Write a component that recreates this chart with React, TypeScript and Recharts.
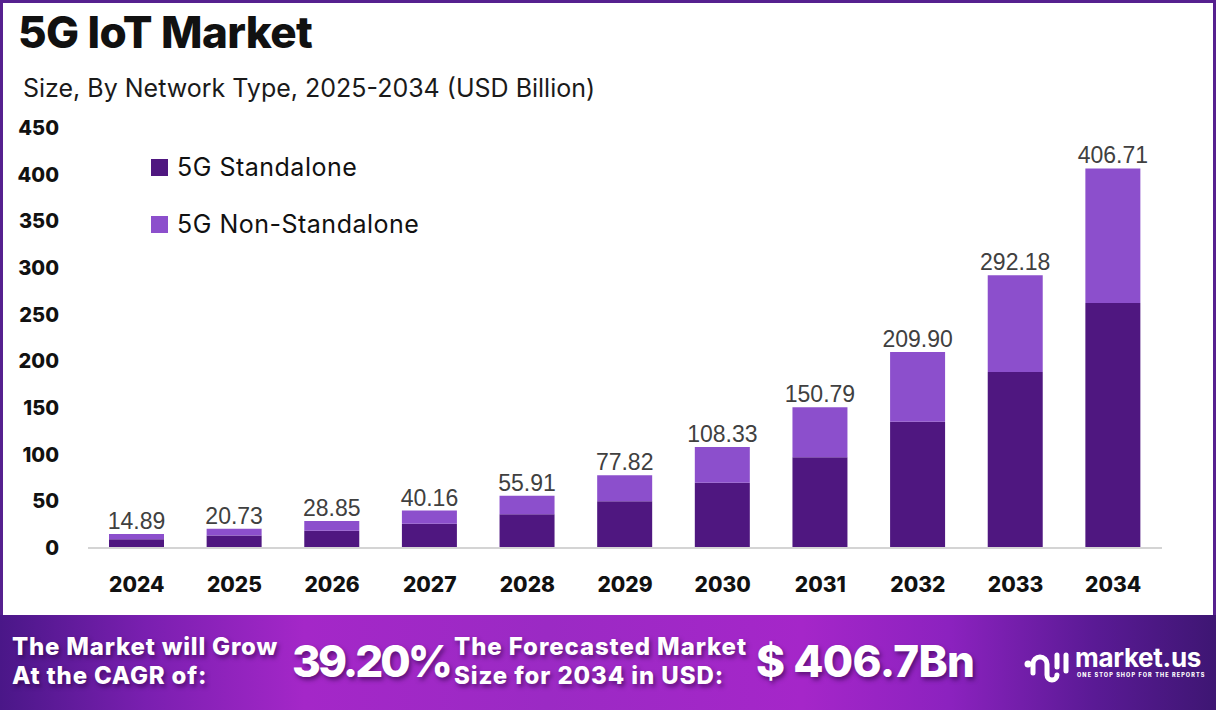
import React from "react";
import { BarChart, Bar, XAxis, YAxis, LabelList } from "recharts";

const years = ["2024", "2025", "2026", "2027", "2028", "2029", "2030", "2031", "2032", "2033", "2034"];
const standalone = [9.5, 13.4, 18.6, 25.9, 36.1, 50.2, 69.9, 97.3, 135.4, 188.5, 262.4];
const nonStandalone = [5.39, 7.33, 10.25, 14.26, 19.81, 27.62, 38.43, 53.49, 74.5, 103.68, 144.31];
const totals = ["14.89", "20.73", "28.85", "40.16", "55.91", "77.82", "108.33", "150.79", "209.90", "292.18", "406.71"];
const yTicks = [0, 50, 100, 150, 200, 250, 300, 350, 400, 450];
const seriesNames = ["5G Standalone", "5G Non-Standalone"];

const DARK = "#4f1780";
const LIGHT = "#8c4fcc";
const seriesColors = [DARK, LIGHT];
const FONT = "Inter, 'Noto Sans', sans-serif";

const data = years.map((y, i) => ({
  year: y,
  sa: standalone[i],
  nsa: nonStandalone[i],
  total: totals[i],
}));

const YTick = (props: any) => {
  const { y, payload } = props;
  return (
    <text x={59} y={y} dy={7} textAnchor="end" fontFamily={FONT} fontWeight={800} fontSize={20} fill="#111">
      {payload.value}
    </text>
  );
};

const XTick = (props: any) => {
  const { x, y, payload } = props;
  return (
    <text x={x} y={y} dy={36} textAnchor="middle" fontFamily={FONT} fontWeight={800} fontSize={21} fill="#111">
      {payload.value}
    </text>
  );
};

const shadowText = "2px 3px 4px rgba(40,0,60,0.55)";

const bannerSmall: React.CSSProperties = {
  position: "absolute",
  top: 17,
  fontSize: 24,
  fontWeight: 800,
  lineHeight: "29px",
  letterSpacing: 0.8,
  textShadow: shadowText,
  whiteSpace: "nowrap",
};

export default function App() {
  return (
    <div
      style={{
        position: "fixed",
        left: 0,
        top: 0,
        width: 1216,
        height: 710,
        background: "#fff",
        overflow: "hidden",
        fontFamily: FONT,
      }}
    >
      <div
        style={{
          position: "absolute",
          left: 0,
          top: 0,
          width: 1216,
          height: 620,
          boxSizing: "border-box",
          borderTop: "3px solid #56208f",
          borderLeft: "3px solid #56208f",
          borderRight: "3px solid #56208f",
        }}
      />
      <div
        style={{
          position: "absolute",
          left: 18,
          top: 4,
          fontSize: 44,
          fontWeight: 800,
          color: "#111",
          letterSpacing: -0.6,
          lineHeight: "56px",
          whiteSpace: "nowrap",
        }}
      >
        5G IoT Market
      </div>
      <div
        style={{
          position: "absolute",
          left: 23,
          top: 72,
          fontSize: 25,
          fontWeight: 400,
          color: "#1a1a1a",
          lineHeight: "32px",
          whiteSpace: "nowrap",
        }}
      >
        Size, By Network Type, 2025-2034 (USD Billion)
      </div>
      <div style={{ position: "absolute", left: 0, top: 0 }}>
        <BarChart
          width={1216}
          height={615}
          data={data}
          margin={{ top: 128, right: 54, bottom: 0, left: 28 }}
          barSize={55}
        >
          <XAxis
            dataKey="year"
            axisLine={{ stroke: "#d4d4d4", strokeWidth: 2 }}
            tickLine={false}
            tick={<XTick />}
            height={67}
            interval={0}
          />
          <YAxis
            domain={[0, 450]}
            ticks={yTicks}
            axisLine={false}
            tickLine={false}
            tick={<YTick />}
            width={60}
            interval={0}
          />
          <Bar dataKey="sa" name={seriesNames[0]} stackId="a" fill={DARK} isAnimationActive={false} />
          <Bar dataKey="nsa" name={seriesNames[1]} stackId="a" fill={LIGHT} isAnimationActive={false}>
            <LabelList
              dataKey="total"
              position="top"
              offset={5}
              fill="#404040"
              fontSize={23}
              fontFamily="'Liberation Sans', Arial, sans-serif"
            />
          </Bar>
        </BarChart>
      </div>
      {seriesNames.map((name, i) => (
        <div
          key={name}
          style={{
            position: "absolute",
            left: 151,
            top: 151 + i * 57,
            height: 32,
            display: "flex",
            alignItems: "center",
            whiteSpace: "nowrap",
          }}
        >
          <div style={{ width: 17, height: 17, background: seriesColors[i], marginRight: 9 }} />
          <span style={{ fontSize: 25, color: "#111", letterSpacing: 0.5 }}>{name}</span>
        </div>
      ))}
      <div
        style={{
          position: "absolute",
          left: 0,
          top: 615,
          width: 1216,
          height: 95,
          background:
            "linear-gradient(90deg, #4a1788 0%, #7a1fb0 12%, #a427c8 25%, #9b2ac4 45%, #a526c9 66%, #8c22bf 78%, #5a1a95 90%, #3e1673 100%)",
          color: "#fff",
        }}
      >
        <div style={{ ...bannerSmall, left: 12 }}>
          The Market will Grow
          <br />
          At the CAGR of:
        </div>
        <div
          style={{
            position: "absolute",
            left: 292,
            top: 18,
            fontSize: 44,
            fontWeight: 800,
            lineHeight: "56px",
            letterSpacing: -3,
            textShadow: shadowText,
          }}
        >
          39.20%
        </div>
        <div style={{ ...bannerSmall, left: 454, letterSpacing: 0.9 }}>
          The Forecasted Market
          <br />
          Size for 2034 in USD:
        </div>
        <div
          style={{
            position: "absolute",
            left: 756,
            top: 18,
            fontSize: 44,
            fontWeight: 800,
            lineHeight: "56px",
            letterSpacing: -0.7,
            textShadow: shadowText,
            whiteSpace: "nowrap",
          }}
        >
          $ 406.7Bn
        </div>
        <svg style={{ position: "absolute", left: 1024, top: 36 }} width={46} height={34} viewBox="0 0 46 34">
          <circle cx={4} cy={13} r={3.5} fill="#fff" />
          <path d="M9 22 L9 13 A7 7 0 0 1 23 13 L23 24 A5 5 0 0 0 33 24" stroke="#fff" strokeWidth={5} fill="none" strokeLinecap="round" />
          <line x1={33} y1={4} x2={33} y2={16} stroke="#fff" strokeWidth={5} strokeLinecap="round" />
          <line x1={42} y1={4} x2={42} y2={20} stroke="#fff" strokeWidth={5} strokeLinecap="round" />
        </svg>
        <div
          style={{
            position: "absolute",
            left: 1075,
            top: 28,
            fontSize: 26,
            fontWeight: 700,
            lineHeight: "30px",
            letterSpacing: -0.3,
          }}
        >
          market.us
        </div>
        <div
          style={{
            position: "absolute",
            left: 1077,
            top: 56,
            fontSize: 5.5,
            fontWeight: 800,
            letterSpacing: 1.1,
            lineHeight: "8px",
            whiteSpace: "nowrap",
          }}
        >
          ONE STOP SHOP FOR THE REPORTS
        </div>
      </div>
    </div>
  );
}
